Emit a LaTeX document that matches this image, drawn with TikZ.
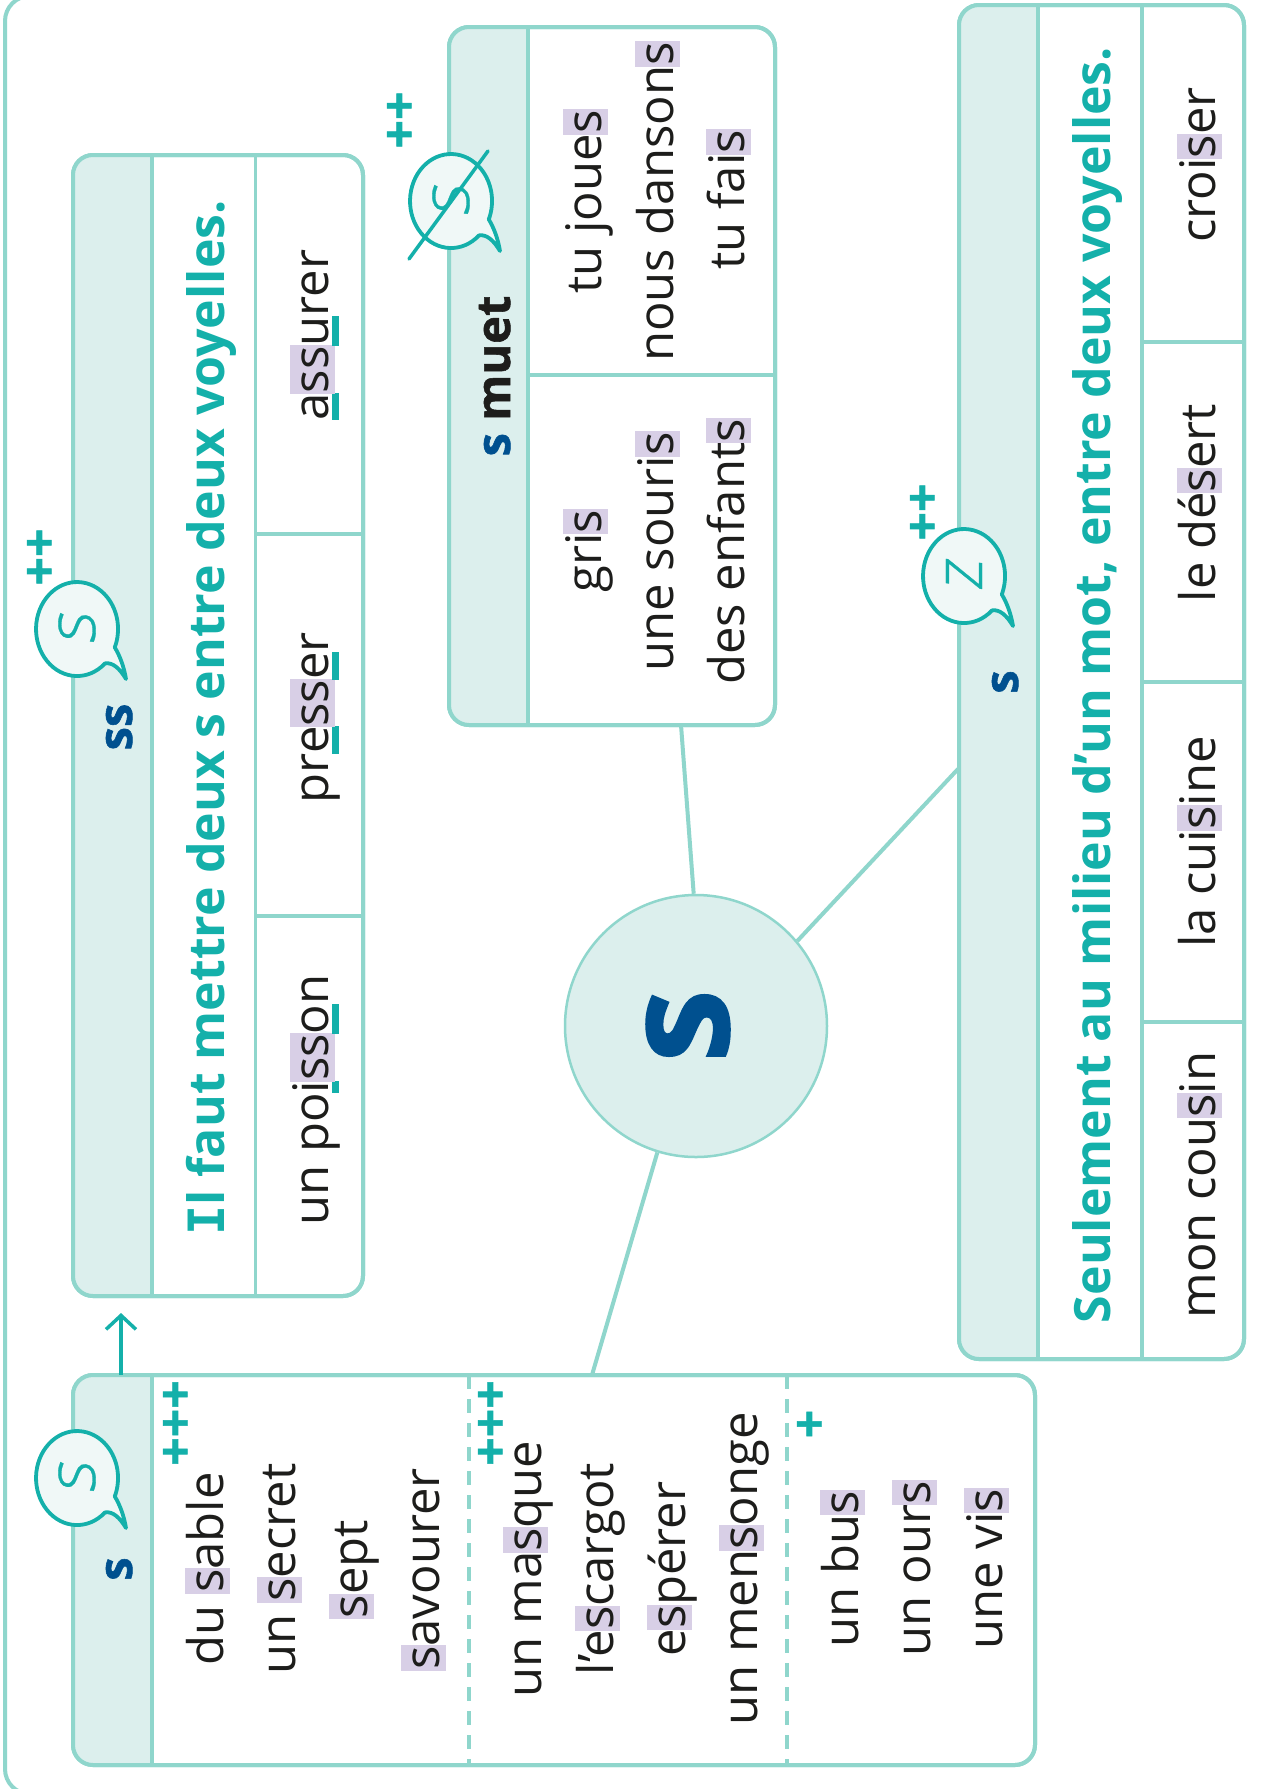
\documentclass[tikz,border=0pt]{standalone}
\usepackage{fontspec}
\usetikzlibrary{arrows.meta}
\setmainfont{Open Sans}
\newfontfamily\lightf[FakeSlant=0.12,FakeBold=0.4]{Open Sans Light}
\newfontfamily\xboldf[BoldFeatures={FakeBold=1.2}]{Open Sans}
\newfontfamily\slabI{DejaVu Sans Mono}
\definecolor{lineC}{HTML}{8FD6CC}
\definecolor{headC}{HTML}{DCEFED}
\definecolor{hlC}{HTML}{D8CFE6}
\definecolor{tealC}{HTML}{14B0AA}
\definecolor{blueC}{HTML}{00508F}
\definecolor{inkC}{HTML}{1D1D1B}
\definecolor{bubC}{HTML}{F0F8F7}
\newsavebox{\mybx}
\newcommand\hl[1]{\sbox{\mybx}{#1}\rlap{\hbox to \wd\mybx{\hss\textcolor{hlC}{\rule[-7pt]{\dimexpr\wd\mybx+2pt\relax}{45pt}}\hss}}#1}
\newcommand\und[1]{\sbox{\mybx}{#1}\rlap{\textcolor{tealC}{\rule[-11pt]{\wd\mybx}{7pt}}}#1}
\newcommand\bubble[4]{%
 \begin{scope}[shift={(#1,#2)}]
  \draw[bubline] (28,34.4) arc[start angle=47,end angle=383,x radius=41,y radius=47]
    .. controls (43,27) and (47,38) .. (49,50) .. controls (43,40) and (36,33) .. cycle;
  \node[bubtext] (#3) at (0,0) {#4};
 \end{scope}}
\tikzset{
 boxline/.style={draw=lineC,line width=4pt},
 rowline/.style={draw=lineC,line width=3.5pt},
 link/.style={draw=lineC,line width=4pt},
 bubline/.style={draw=tealC,fill=bubC,line width=3.8pt,line join=round},
 bubtext/.style={rotate=90,text=tealC,font=\lightf\fontsize{68}{68}\selectfont},
 word/.style={rotate=90,anchor=base,text=inkC,font=\fontsize{49}{49}\selectfont,inner sep=0pt},
 rule text/.style={rotate=90,anchor=base,text=tealC,font=\bfseries\fontsize{50}{50}\selectfont,inner sep=0pt},
 head/.style={rotate=90,anchor=base,text=blueC,font=\xboldf\bfseries\fontsize{47}{47}\selectfont,inner sep=0pt},
 plus/.style={rotate=90,text=tealC,font=\xboldf\bfseries\fontsize{50}{50}\selectfont,inner sep=0pt},
}
\begin{document}
\begin{tikzpicture}[x=1pt,y=-1pt]
\useasboundingbox (0,0) rectangle (1271,1789);
\fill[white] (0,0) rectangle (1271,1789);
% outer frame
\begin{scope}
\clip (0,0) rectangle (1271,1789);
\draw[boxline,rounded corners=25pt] (5,-4) rectangle (1320,1794);
\end{scope}
% circle
\node[circle,draw=lineC,fill=headC,line width=2.5pt,minimum size=262pt,inner sep=0pt] (c) at (696,1026) {};
\node[rotate=90,text=blueC,font=\xboldf\bfseries\fontsize{148}{148}\selectfont,inner sep=0pt] (cs) at (688,1026) {s};
% coordinates for boxes
\coordinate (sTop) at (592,1375);
\coordinate (muB) at (681,725);
\coordinate (zL) at (958,769);
% connectors
\draw[link] (c.40) -- (zL);
\draw[link] (c.91) -- (muB);
\draw[link] (c.253) -- (sTop);
% s box
\draw[boxline,fill=white,rounded corners=20pt] (73,1375) rectangle (1035,1765);
\begin{scope}
\clip[rounded corners=20pt] (73,1375) rectangle (1035,1765);
\fill[headC] (73,1375) rectangle (152,1765);
\end{scope}
\draw[boxline,rounded corners=20pt] (73,1375) rectangle (1035,1765);
\draw[rowline] (152,1375) -- (152,1765);
\draw[rowline,dashed,dash pattern=on 14pt off 10pt] (469,1375) -- (469,1765);
\draw[rowline,dashed,dash pattern=on 14pt off 10pt] (787,1375) -- (787,1765);
\node[head] (h1) at (132,1569) {s};
\node[word] (w1) at (223,1569) {du \hl{s}able};
\node[word] (w2) at (295,1569) {un \hl{s}ecret};
\node[word] (w3) at (367,1569) {\hl{s}ept};
\node[word] (w4) at (439,1569) {\hl{s}avourer};
\node[word] (w5) at (541,1569) {un ma\hl{s}que};
\node[word] (w6) at (613,1569) {l’e\hl{s}cargot};
\node[word] (w7) at (685,1569) {e\hl{s}pérer};
\node[word] (w8) at (757,1569) {un men\hl{s}onge};
\node[word] (w9) at (858,1569) {un bu\hl{s}};
\node[word] (w10) at (930,1569) {un our\hl{s}};
\node[word] (w11) at (1002,1569) {une vi\hl{s}};
\node[plus] (p1) at (178,1423) {+++};
\node[plus] (p2) at (493,1423) {+++};
\node[plus] (p3) at (812,1424) {+};
% ss box
\draw[boxline,fill=white,rounded corners=20pt] (73,155) rectangle (363,1296);
\begin{scope}
\clip[rounded corners=20pt] (73,155) rectangle (363,1296);
\fill[headC] (73,155) rectangle (152,1296);
\end{scope}
\draw[boxline,rounded corners=20pt] (73,155) rectangle (363,1296);
\draw[rowline] (152,155) -- (152,1296);
\draw[rowline] (255.5,155) -- (255.5,1296);
\draw[rowline] (255.5,534) -- (363,534);
\draw[rowline] (255.5,916) -- (363,916);
\node[head] (h2) at (132,727) {ss};
\node[rule text] (r1) at (224,718) {{\slabI I}l faut mettre deux s entre deux voyelles.};
\node[word] (a1) at (328,1100) {un po\und{i}\hl{ss}\und{o}n};
\node[word] (a2) at (328,718) {pr\und{e}\hl{ss}\und{e}r};
\node[word] (a3) at (328,335) {\und{a}\hl{ss}\und{u}rer};
\node[plus] (p4) at (42,557) {++};
% muet box
\draw[boxline,fill=white,rounded corners=20pt] (449,27) rectangle (775,725);
\begin{scope}
\clip[rounded corners=20pt] (449,27) rectangle (775,725);
\fill[headC] (449,27) rectangle (528,725);
\end{scope}
\draw[boxline,rounded corners=20pt] (449,27) rectangle (775,725);
\draw[rowline] (528,27) -- (528,725);
\draw[rowline] (528,375) -- (775,375);
\node[head] (h3) at (510,376) {\textcolor{blueC}{s} \textcolor{inkC}{muet}};
\node[word] (m1) at (601,202) {tu joue\hl{s}};
\node[word] (m2) at (673,202) {nous danson\hl{s}};
\node[word] (m3) at (744,200) {tu fai\hl{s}};
\node[word] (m4) at (601,551) {gri\hl{s}};
\node[word] (m5) at (673,552) {une souri\hl{s}};
\node[word] (m6) at (744,552) {des enfant\hl{s}};
\node[plus] (p5) at (402,120) {++};
% z box
\draw[boxline,fill=white,rounded corners=20pt] (959,5) rectangle (1244,1359);
\begin{scope}
\clip[rounded corners=20pt] (959,5) rectangle (1244,1359);
\fill[headC] (959,5) rectangle (1038,1359);
\end{scope}
\draw[boxline,rounded corners=20pt] (959,5) rectangle (1244,1359);
\draw[rowline] (1038,5) -- (1038,1359);
\draw[rowline] (1142,5) -- (1142,1359);
\draw[rowline] (1142,342) -- (1244,342);
\draw[rowline] (1142,682) -- (1244,682);
\draw[rowline] (1142,1022) -- (1244,1022);
\node[head] (h4) at (1018,682) {s};
\node[rule text] (r2) at (1110,685) {Seulement au milieu d’un mot, entre deux voyelles.};
\node[word] (z1) at (1215,1185) {mon cou\hl{s}in};
\node[word] (z2) at (1215,842) {la cui\hl{s}ine};
\node[word] (z3) at (1215,503) {le dé\hl{s}ert};
\node[word] (z4) at (1215,165) {croi\hl{s}er};
\node[plus] (p6) at (925,512) {++};
% arrow
\coordinate (aS) at (121,1375);
\coordinate (aE) at (121,1313);
\draw[draw=tealC,line width=3.5pt,-{Straight Barb[length=14pt,width=30pt,line width=3.5pt]}] (aS) -- (aE);
% bubbles
\bubble{77}{1478}{b1}{s}
\bubble{77}{629}{b2}{s}
\bubble{451}{201}{b3}{s}
\bubble{964}{576}{b4}{z}
\coordinate (st1) at (488,151);
\coordinate (st2) at (409,259);
\draw[draw=tealC,line width=3.5pt,line cap=round] (st1) -- (st2);
\end{tikzpicture}
\end{document}
